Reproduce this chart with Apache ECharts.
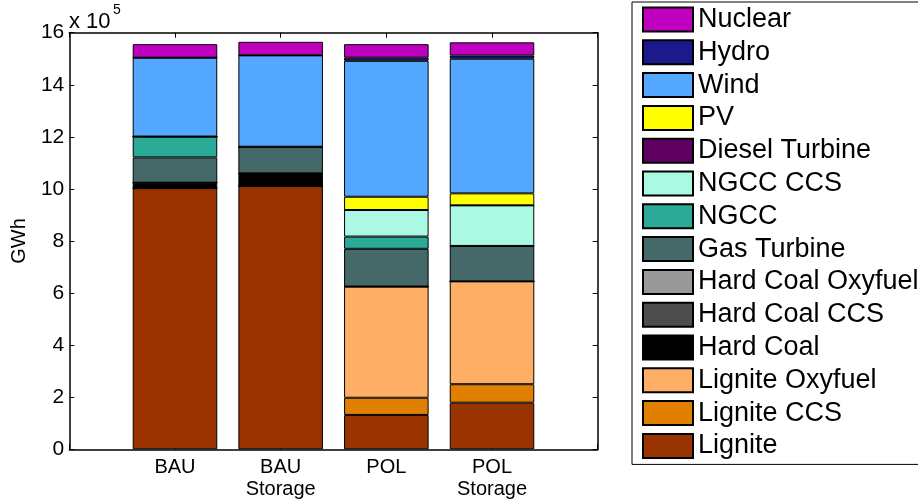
<!DOCTYPE html>
<html>
<head>
<meta charset="utf-8">
<script src="https://cdn.jsdelivr.net/npm/echarts@6/dist/echarts.min.js"></script>
<style>html,body{margin:0;padding:0;background:#fff;}#c{width:918px;height:501px;}</style>
</head>
<body>
<div id="c"></div>
<script>
// Values in units of 10^5 GWh
const categories = ['BAU', 'BAU\nStorage', 'POL', 'POL\nStorage'];
const yTicks = [0, 2, 4, 6, 8, 10, 12, 14, 16];

const lignite          = [10.03, 10.11, 1.32, 1.79];
const ligniteCCS       = [0, 0, 0.66, 0.71];
const ligniteOxyfuel   = [0, 0, 4.27, 3.95];
const hardCoal         = [0.21, 0.49, 0, 0];
const hardCoalCCS      = [0, 0, 0, 0];
const hardCoalOxyfuel  = [0, 0, 0, 0];
const gasTurbine       = [0.97, 1.02, 1.45, 1.36];
const ngcc             = [0.80, 0, 0.47, 0];
const ngccCCS          = [0, 0, 1.02, 1.56];
const dieselTurbine    = [0, 0, 0, 0];
const pv               = [0, 0, 0.51, 0.46];
const wind             = [3.03, 3.51, 5.22, 5.17];
const hydro            = [0, 0, 0.12, 0.12];
const nuclear          = [0.52, 0.52, 0.52, 0.51];

const seriesNames = ['Lignite','Lignite CCS','Lignite Oxyfuel','Hard Coal','Hard Coal CCS','Hard Coal Oxyfuel','Gas Turbine','NGCC','NGCC CCS','Diesel Turbine','PV','Wind','Hydro','Nuclear'];
const seriesValues = [lignite, ligniteCCS, ligniteOxyfuel, hardCoal, hardCoalCCS, hardCoalOxyfuel, gasTurbine, ngcc, ngccCCS, dieselTurbine, pv, wind, hydro, nuclear];
const seriesColors = ['#993300','#E07F00','#FFAE66','#000000','#4D4D4D','#999999','#456868','#2BAB97','#ABF9E3','#600060','#FFFF00','#55A8FF','#1A1A8C','#BF00BF'];

const FONT = 'Liberation Sans, Arial, sans-serif';
const chart = echarts.init(document.getElementById('c'), null, {renderer: 'canvas'});

// axis spans 0..5 like the original (xlim [0 5]); empty slots at both ends
const axisCategories = [''].concat(categories, ['']);

const series = seriesNames.map((name, i) => ({
  name: name,
  type: 'bar',
  stack: 'total',
  barWidth: '80%',
  itemStyle: {color: seriesColors[i], borderColor: '#000', borderWidth: 1},
  emphasis: {disabled: true},
  data: ['-'].concat(seriesValues[i], ['-'])
}));

const catAxisBase = {
  type: 'category', data: axisCategories, boundaryGap: false,
  axisLine: {show: true, onZero: false, lineStyle: {color: '#000', width: 1.5}},
  axisTick: {show: true, inside: true, length: 5, alignWithLabel: true, lineStyle: {color: '#000'}},
  splitLine: {show: false}
};

chart.setOption({
  animation: false,
  backgroundColor: '#fff',
  textStyle: {fontFamily: FONT},
  grid: {left: 69.3, right: 320.3, top: 32.7, bottom: 51.7, containLabel: false},
  xAxis: [Object.assign({}, catAxisBase, {
    position: 'bottom',
    axisLabel: {color: '#000', fontSize: 20, fontFamily: FONT, margin: 7, lineHeight: 22, interval: 0}
  }), Object.assign({}, catAxisBase, {
    position: 'top',
    axisLabel: {show: false}
  })],
  yAxis: [{
    type: 'value', min: yTicks[0], max: yTicks[yTicks.length - 1], interval: 2, position: 'left',
    name: 'GWh', nameLocation: 'middle', nameGap: 40,
    nameTextStyle: {color: '#000', fontSize: 20, fontFamily: FONT},
    axisLine: {show: true, onZero: false, lineStyle: {color: '#000', width: 1.5}},
    axisTick: {show: true, inside: true, length: 5, lineStyle: {color: '#000'}},
    splitLine: {show: false},
    axisLabel: {color: '#000', fontSize: 21, fontFamily: FONT, margin: 5}
  }, {
    type: 'value', min: yTicks[0], max: yTicks[yTicks.length - 1], interval: 2, position: 'right',
    axisLine: {show: true, onZero: false, lineStyle: {color: '#000', width: 1.5}},
    axisTick: {show: true, inside: true, length: 5, lineStyle: {color: '#000'}},
    splitLine: {show: false},
    axisLabel: {show: false}
  }],
  legend: {
    orient: 'vertical',
    left: 632, top: 2,
    padding: [4, 30, 5, 10],
    itemWidth: 50, itemHeight: 24, itemGap: 5.8,
    icon: 'rect',
    borderColor: '#000', borderWidth: 1,
    backgroundColor: '#fff',
    textStyle: {color: '#000', fontSize: 27, fontFamily: FONT},
    data: seriesNames.slice().reverse()
  },
  graphic: [
    {type: 'text', left: 69, top: 11, style: {text: 'x 10', fontSize: 22, fontFamily: FONT, fill: '#000'}},
    {type: 'text', left: 113, top: 3, style: {text: '5', fontSize: 14, fontFamily: FONT, fill: '#000'}}
  ],
  series: series
});
</script>
</body>
</html>
